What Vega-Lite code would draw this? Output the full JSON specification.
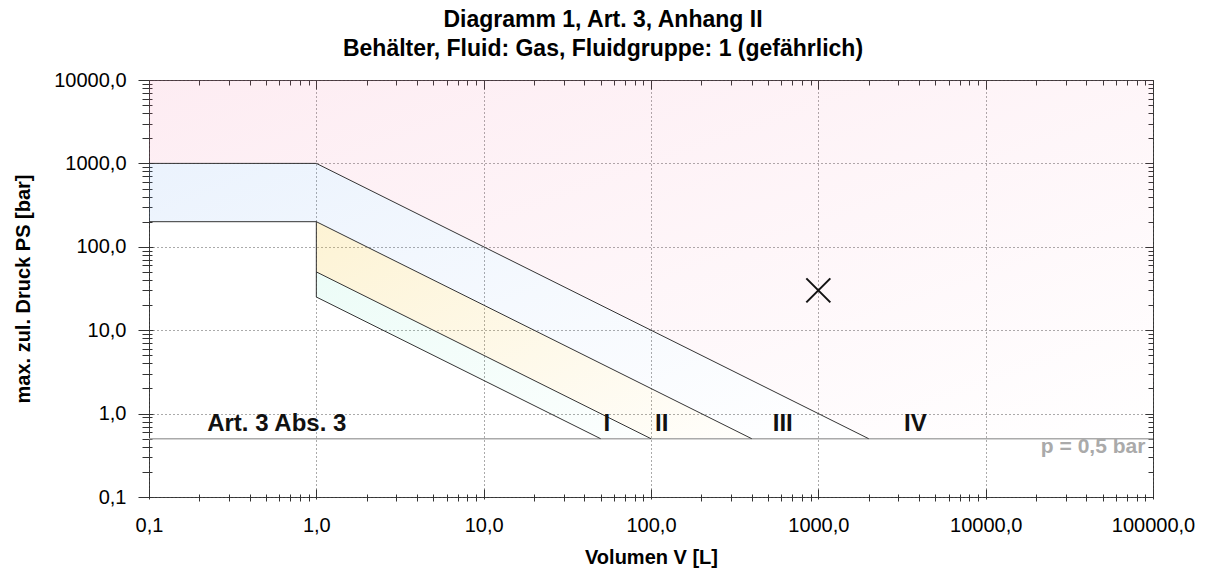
{
  "$schema": "https://vega.github.io/schema/vega-lite/v6.json",
  "width": 1004,
  "height": 417,
  "autosize": "none",
  "padding": {"left": 149, "top": 80, "right": 53, "bottom": 75},
  "title": {
    "text": ["Diagramm 1, Art. 3, Anhang II", "Behälter, Fluid: Gas, Fluidgruppe: 1 (gefährlich)"],
    "font": "Liberation Sans",
    "fontSize": 23,
    "fontWeight": "bold",
    "color": "#000",
    "anchor": "middle",
    "baseline": "bottom",
    "lineHeight": 29,
    "offset": -14,
    "dx": -48
  },
  "datasets": {
    "zone4": [
      {"V": 0.1, "hi": 10000, "lo": 1000},
      {"V": 1, "hi": 10000, "lo": 1000},
      {"V": 2000, "hi": 10000, "lo": 0.5},
      {"V": 100000, "hi": 10000, "lo": 0.5}
    ],
    "zone3": [
      {"V": 0.1, "hi": 1000, "lo": 200},
      {"V": 1, "hi": 1000, "lo": 200},
      {"V": 400, "hi": 2.5, "lo": 0.5},
      {"V": 2000, "hi": 0.5, "lo": 0.5}
    ],
    "zone2": [
      {"V": 1, "hi": 200, "lo": 50},
      {"V": 100, "hi": 2, "lo": 0.5},
      {"V": 400, "hi": 0.5, "lo": 0.5}
    ],
    "zone1": [
      {"V": 1, "hi": 50, "lo": 25},
      {"V": 50, "hi": 1, "lo": 0.5},
      {"V": 100, "hi": 0.5, "lo": 0.5}
    ],
    "bounds": [
      {"line": "a", "i": 0, "V": 0.1, "p": 1000},
      {"line": "a", "i": 1, "V": 1, "p": 1000},
      {"line": "a", "i": 2, "V": 2000, "p": 0.5},
      {"line": "b", "i": 0, "V": 0.1, "p": 200},
      {"line": "b", "i": 1, "V": 1, "p": 200},
      {"line": "b", "i": 2, "V": 400, "p": 0.5},
      {"line": "c", "i": 0, "V": 1, "p": 200},
      {"line": "c", "i": 1, "V": 1, "p": 25},
      {"line": "d", "i": 0, "V": 1, "p": 50},
      {"line": "d", "i": 1, "V": 100, "p": 0.5},
      {"line": "e", "i": 0, "V": 1, "p": 25},
      {"line": "e", "i": 1, "V": 50, "p": 0.5}
    ],
    "limit": [{"p": 0.5}],
    "labels": [
      {"text": "Art. 3 Abs. 3", "V": 0.58, "p": 0.62},
      {"text": "I", "V": 54.5, "p": 0.62},
      {"text": "II", "V": 116, "p": 0.62},
      {"text": "III", "V": 613, "p": 0.62},
      {"text": "IV", "V": 3800, "p": 0.62}
    ],
    "limitLabel": [{"text": "p = 0,5 bar", "V": 90000, "p": 0.34}],
    "point": [{"V": 1000, "p": 30}]
  },
  "layer": [
    {
      "data": {"name": "zone4"},
      "mark": {
        "type": "area",
        "color": {
          "gradient": "linear", "x1": 0, "y1": 0, "x2": 1, "y2": 1,
          "stops": [
            {"offset": 0, "color": "rgba(240,100,150,0.12)"},
            {"offset": 0.6, "color": "rgba(240,100,150,0.05)"},
            {"offset": 1, "color": "rgba(240,100,150,0.0)"}
          ]
        }
      },
      "encoding": {
        "x": {
          "field": "V", "type": "quantitative",
          "scale": {"type": "log", "domain": [0.1, 100000], "nice": false},
          "axis": {
            "orient": "bottom", "values": [0.1, 1, 10, 100, 1000, 10000, 100000],
            "labelExpr": "replace(format(datum.value, '.1f'), '.', ',')",
            "ticks": false, "domain": false, "grid": true, "labelPadding": 18,
            "labelFlush": false, "labelOverlap": false,
            "title": "Volumen V [L]", "titlePadding": 12
          }
        },
        "y": {
          "field": "hi", "type": "quantitative",
          "scale": {"type": "log", "domain": [0.1, 10000], "nice": false},
          "axis": {
            "orient": "left", "values": [0.1, 1, 10, 100, 1000, 10000],
            "labelExpr": "replace(format(datum.value, '.1f'), '.', ',')",
            "ticks": false, "domain": false, "grid": true, "labelPadding": 23,
            "labelFlush": false, "labelOverlap": false,
            "title": "max. zul. Druck PS [bar]", "titlePadding": 20
          }
        },
        "y2": {"field": "lo"}
      }
    },
    {
      "data": {"name": "zone3"},
      "mark": {
        "type": "area",
        "color": {
          "gradient": "linear", "x1": 0, "y1": 0, "x2": 1, "y2": 1,
          "stops": [
            {"offset": 0, "color": "rgba(100,160,240,0.13)"},
            {"offset": 1, "color": "rgba(100,160,240,0.0)"}
          ]
        }
      },
      "encoding": {
        "x": {
          "field": "V", "type": "quantitative",
          "scale": {"type": "log", "domain": [0.1, 100000], "nice": false},
          "axis": {
            "orient": "bottom", "values": [0.1, 1, 10, 100, 1000, 10000, 100000],
            "labels": false, "domain": false, "grid": false, "title": null,
            "tickSize": 10, "offset": -8
          }
        },
        "y": {
          "field": "hi", "type": "quantitative",
          "scale": {"type": "log", "domain": [0.1, 10000], "nice": false},
          "axis": {
            "orient": "left", "values": [0.1, 1, 10, 100, 1000, 10000],
            "labels": false, "domain": false, "grid": false, "title": null,
            "tickSize": 15, "offset": -4
          }
        },
        "y2": {"field": "lo"}
      }
    },
    {
      "data": {"name": "zone2"},
      "mark": {
        "type": "area",
        "color": {
          "gradient": "linear", "x1": 0, "y1": 0, "x2": 1, "y2": 1,
          "stops": [
            {"offset": 0, "color": "rgba(245,200,60,0.22)"},
            {"offset": 1, "color": "rgba(245,200,60,0.02)"}
          ]
        }
      },
      "encoding": {
        "x": {
          "field": "V", "type": "quantitative",
          "scale": {"type": "log", "domain": [0.1, 100000], "nice": false},
          "axis": {
            "orient": "bottom",
            "values": [0.2, 0.3, 0.4, 0.5, 0.6, 0.7, 0.8, 0.9, 2, 3, 4, 5, 6, 7, 8, 9, 20, 30, 40, 50, 60, 70, 80, 90, 200, 300, 400, 500, 600, 700, 800, 900, 2000, 3000, 4000, 5000, 6000, 7000, 8000, 9000, 20000, 30000, 40000, 50000, 60000, 70000, 80000, 90000],
            "labels": false, "domain": false, "grid": false, "title": null,
            "tickSize": 7, "offset": -3
          }
        },
        "y": {
          "field": "hi", "type": "quantitative",
          "scale": {"type": "log", "domain": [0.1, 10000], "nice": false},
          "axis": {
            "orient": "left",
            "values": [0.2, 0.3, 0.4, 0.5, 0.6, 0.7, 0.8, 0.9, 2, 3, 4, 5, 6, 7, 8, 9, 20, 30, 40, 50, 60, 70, 80, 90, 200, 300, 400, 500, 600, 700, 800, 900, 2000, 3000, 4000, 5000, 6000, 7000, 8000, 9000],
            "labels": false, "domain": false, "grid": false, "title": null,
            "tickSize": 10, "offset": -3
          }
        },
        "y2": {"field": "lo"}
      }
    },
    {
      "data": {"name": "zone1"},
      "mark": {
        "type": "area",
        "color": {
          "gradient": "linear", "x1": 0, "y1": 0, "x2": 1, "y2": 1,
          "stops": [
            {"offset": 0, "color": "rgba(100,230,190,0.12)"},
            {"offset": 1, "color": "rgba(100,230,190,0.02)"}
          ]
        }
      },
      "encoding": {
        "x": {
          "field": "V", "type": "quantitative",
          "scale": {"type": "log", "domain": [0.1, 100000], "nice": false},
          "axis": {
            "orient": "top", "values": [0.1, 1, 10, 100, 1000, 10000, 100000],
            "labels": false, "domain": false, "grid": false, "title": null,
            "tickSize": 9, "offset": -9
          }
        },
        "y": {
          "field": "hi", "type": "quantitative",
          "scale": {"type": "log", "domain": [0.1, 10000], "nice": false},
          "axis": {
            "orient": "right", "values": [0.1, 1, 10, 100, 1000, 10000],
            "labels": false, "domain": false, "grid": false, "title": null,
            "tickSize": 8, "offset": -8
          }
        },
        "y2": {"field": "lo"}
      }
    },
    {
      "data": {"name": "limit"},
      "mark": {"type": "rule", "color": "#aaaaaa", "strokeWidth": 1.5},
      "encoding": {
        "x": {
          "datum": 0.1, "type": "quantitative",
          "scale": {"type": "log", "domain": [0.1, 100000], "nice": false},
          "axis": {
            "orient": "top",
            "values": [0.2, 0.3, 0.4, 0.5, 0.6, 0.7, 0.8, 0.9, 2, 3, 4, 5, 6, 7, 8, 9, 20, 30, 40, 50, 60, 70, 80, 90, 200, 300, 400, 500, 600, 700, 800, 900, 2000, 3000, 4000, 5000, 6000, 7000, 8000, 9000, 20000, 30000, 40000, 50000, 60000, 70000, 80000, 90000],
            "labels": false, "domain": false, "grid": false, "title": null,
            "tickSize": 5, "offset": -5
          }
        },
        "x2": {"datum": 100000},
        "y": {
          "field": "p", "type": "quantitative",
          "scale": {"type": "log", "domain": [0.1, 10000], "nice": false},
          "axis": {
            "orient": "right",
            "values": [0.2, 0.3, 0.4, 0.5, 0.6, 0.7, 0.8, 0.9, 2, 3, 4, 5, 6, 7, 8, 9, 20, 30, 40, 50, 60, 70, 80, 90, 200, 300, 400, 500, 600, 700, 800, 900, 2000, 3000, 4000, 5000, 6000, 7000, 8000, 9000],
            "labels": false, "domain": false, "grid": false, "title": null,
            "tickSize": 5, "offset": -5
          }
        }
      }
    },
    {
      "data": {"name": "bounds"},
      "mark": {"type": "line", "color": "#333333", "strokeWidth": 1},
      "encoding": {
        "x": {"field": "V", "type": "quantitative", "scale": {"type": "log", "domain": [0.1, 100000], "nice": false}, "axis": null},
        "y": {"field": "p", "type": "quantitative", "scale": {"type": "log", "domain": [0.1, 10000], "nice": false}, "axis": null},
        "detail": {"field": "line"},
        "order": {"field": "i"}
      }
    },
    {
      "data": {"name": "labels"},
      "mark": {"type": "text", "font": "Liberation Sans", "fontSize": 24, "fontWeight": "bold", "color": "#111", "align": "center", "baseline": "alphabetic"},
      "encoding": {
        "x": {"field": "V", "type": "quantitative", "scale": {"type": "log", "domain": [0.1, 100000], "nice": false}, "axis": null},
        "y": {"field": "p", "type": "quantitative", "scale": {"type": "log", "domain": [0.1, 10000], "nice": false}, "axis": null},
        "text": {"field": "text"}
      }
    },
    {
      "data": {"name": "limitLabel"},
      "mark": {"type": "text", "font": "Liberation Sans", "fontSize": 21, "fontWeight": "bold", "color": "#aaaaaa", "align": "right", "baseline": "alphabetic"},
      "encoding": {
        "x": {"field": "V", "type": "quantitative", "scale": {"type": "log", "domain": [0.1, 100000], "nice": false}, "axis": null},
        "y": {"field": "p", "type": "quantitative", "scale": {"type": "log", "domain": [0.1, 10000], "nice": false}, "axis": null},
        "text": {"field": "text"}
      }
    },
    {
      "data": {"name": "point"},
      "mark": {"type": "point", "shape": "M-1,-1L1,1M-1,1L1,-1", "size": 576, "filled": false, "color": "#111", "strokeWidth": 2, "opacity": 1},
      "encoding": {
        "x": {"field": "V", "type": "quantitative", "scale": {"type": "log", "domain": [0.1, 100000], "nice": false}, "axis": null},
        "y": {"field": "p", "type": "quantitative", "scale": {"type": "log", "domain": [0.1, 10000], "nice": false}, "axis": null}
      }
    }
  ],
  "resolve": {"axis": {"x": "independent", "y": "independent"}},
  "config": {
    "view": {"stroke": "#333333", "strokeWidth": 1},
    "axis": {
      "labelFont": "Liberation Sans",
      "labelFontSize": 20,
      "labelColor": "#000",
      "titleFont": "Liberation Sans",
      "titleFontSize": 20,
      "titleFontWeight": "bold",
      "titleColor": "#000",
      "tickColor": "#333333",
      "tickWidth": 1,
      "gridColor": "#555555",
      "gridDash": [1, 3],
      "gridWidth": 1,
      "gridOpacity": 1
    }
  }
}
